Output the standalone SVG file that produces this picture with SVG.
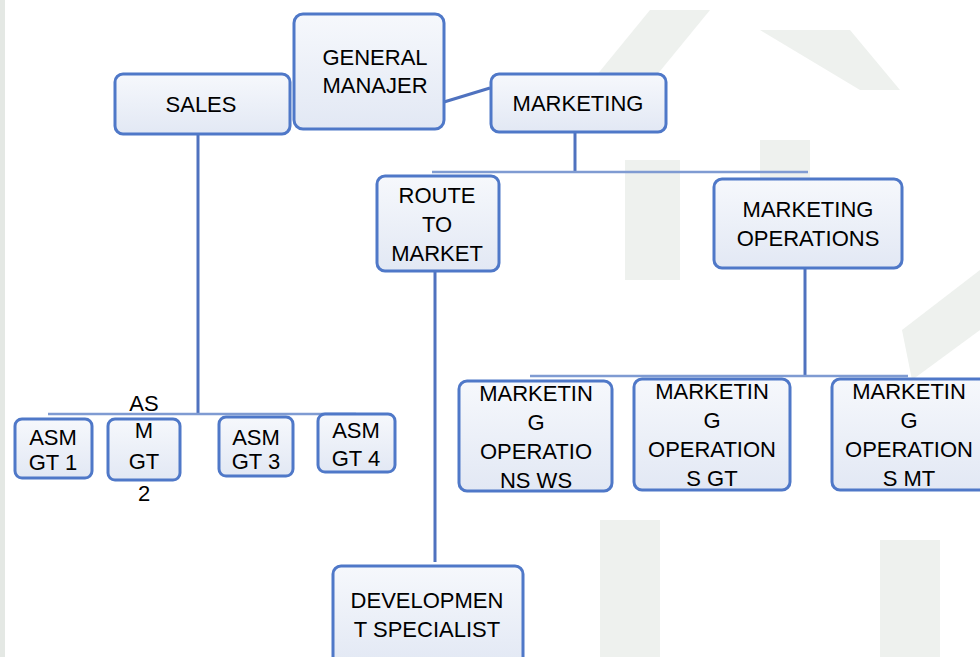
<svg xmlns="http://www.w3.org/2000/svg" width="980" height="657" viewBox="0 0 980 657">
<defs>
<linearGradient id="bg" x1="0" y1="0" x2="0" y2="1">
<stop offset="0" stop-color="#f6f8fc"/>
<stop offset="1" stop-color="#e2e8f4"/>
</linearGradient>
</defs>
<style>
.box{fill:url(#bg);stroke:#4f78c8;stroke-width:3}
.t{font-family:"Liberation Sans",Arial,sans-serif;font-size:22px;fill:#000;text-anchor:middle}
.c{stroke:#4f72bf;stroke-width:3;fill:none}
.h{stroke:#7f9bd2;stroke-width:2.5;fill:none}
.wm{fill:#eef1ee}
</style>
<rect width="980" height="657" fill="#ffffff"/>
<g id="watermark">
<rect x="0" y="0" width="5" height="657" fill="#e4e8e4"/>
<polygon class="wm" points="560,120 650,10 710,10 620,120"/>
<rect class="wm" x="625" y="160" width="55" height="120"/>
<rect class="wm" x="760" y="140" width="50" height="40"/>
<polygon class="wm" points="760,30 850,30 900,90 860,90"/>
<polygon class="wm" points="902,330 980,270 980,330 912,380"/>
<rect class="wm" x="600" y="520" width="60" height="137"/>
<rect class="wm" x="880" y="540" width="60" height="117"/>
</g>
<g id="connectors">
<path class="c" d="M444,102 L490,88"/>
<path class="c" d="M198,134 V414"/>
<path class="h" d="M48,414 H356"/>
<path class="c" d="M575,132 V172"/>
<path class="h" d="M432,172 H808"/>
<path class="c" d="M435,271 V562"/>
<path class="c" d="M805,268 V376"/>
<path class="h" d="M530,376 H908"/>
</g>
<g id="general-manajer">
<rect class="box" x="294" y="14" width="150" height="115" rx="9"/>
<text class="t" x="375" y="65">GENERAL</text>
<text class="t" x="375" y="93">MANAJER</text>
</g>
<g id="sales">
<rect class="box" x="115" y="74" width="175" height="60" rx="8"/>
<text class="t" x="201" y="112">SALES</text>
</g>
<g id="marketing">
<rect class="box" x="491" y="74" width="175" height="58" rx="8"/>
<text class="t" x="578" y="111">MARKETING</text>
</g>
<g id="route-to-market">
<rect class="box" x="377" y="176" width="122" height="95" rx="8"/>
<text class="t" x="437" y="203">ROUTE</text>
<text class="t" x="437" y="232">TO</text>
<text class="t" x="437" y="261">MARKET</text>
</g>
<g id="marketing-operations">
<rect class="box" x="714" y="179" width="188" height="89" rx="8"/>
<text class="t" x="808" y="217">MARKETING</text>
<text class="t" x="808" y="246">OPERATIONS</text>
</g>
<g id="development-specialist">
<rect class="box" x="333" y="566" width="190" height="100" rx="8"/>
<text class="t" x="427" y="608">DEVELOPMEN</text>
<text class="t" x="427" y="637">T SPECIALIST</text>
</g>
<g id="mo-ws">
<rect class="box" x="459" y="381" width="153" height="110" rx="8"/>
<text class="t" x="536" y="401">MARKETIN</text>
<text class="t" x="536" y="430">G</text>
<text class="t" x="536" y="459">OPERATIO</text>
<text class="t" x="536" y="488">NS WS</text>
</g>
<g id="mo-gt">
<rect class="box" x="634" y="379" width="156" height="111" rx="8"/>
<text class="t" x="712" y="399">MARKETIN</text>
<text class="t" x="712" y="428">G</text>
<text class="t" x="712" y="457">OPERATION</text>
<text class="t" x="712" y="486">S GT</text>
</g>
<g id="mo-mt">
<rect class="box" x="832" y="379" width="155" height="111" rx="8"/>
<text class="t" x="909" y="399">MARKETIN</text>
<text class="t" x="909" y="428">G</text>
<text class="t" x="909" y="457">OPERATION</text>
<text class="t" x="909" y="486">S MT</text>
</g>
<g id="asm-gt1">
<rect class="box" x="15" y="419" width="77" height="59" rx="7"/>
<text class="t" x="53" y="445">ASM</text>
<text class="t" x="53" y="470">GT 1</text>
</g>
<g id="asm-gt2">
<rect class="box" x="108" y="419" width="72" height="61" rx="7"/>
<text class="t" x="144" y="411">AS</text>
<text class="t" x="144" y="438">M</text>
<text class="t" x="144" y="469">GT</text>
<text class="t" x="144" y="501">2</text>
</g>
<g id="asm-gt3">
<rect class="box" x="219" y="417" width="74" height="59" rx="7"/>
<text class="t" x="256" y="445">ASM</text>
<text class="t" x="256" y="469">GT 3</text>
</g>
<g id="asm-gt4">
<rect class="box" x="318" y="414" width="77" height="58" rx="7"/>
<text class="t" x="356" y="438">ASM</text>
<text class="t" x="356" y="466">GT 4</text>
</g>
</svg>
